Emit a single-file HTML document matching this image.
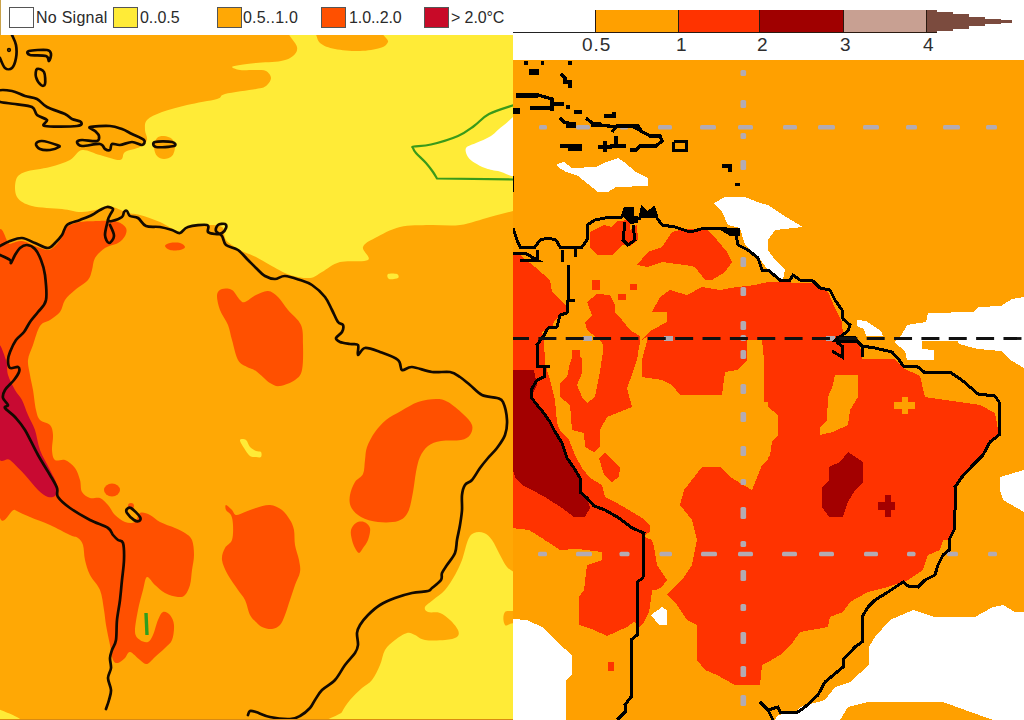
<!DOCTYPE html>
<html lang="en">
<head>
<meta charset="utf-8">
<title>Temperature change maps</title>
<style>
html,body{margin:0;padding:0;background:#fff;}
body{width:1024px;height:720px;overflow:hidden;position:relative;font-family:"Liberation Sans",sans-serif;}
#left{position:absolute;left:0;top:0;width:513px;height:720px;overflow:hidden;}
#right{position:absolute;left:513px;top:0;width:511px;height:720px;overflow:hidden;}
svg{position:absolute;left:0;top:0;display:block;}
.lg{position:absolute;top:7px;height:19px;width:23px;border:1px solid #555;box-sizing:content-box;}
.lt{position:absolute;top:8px;font-size:16px;line-height:19px;color:#2a2a2a;white-space:nowrap;letter-spacing:-0.1px;}
.cl{position:absolute;top:35px;font-size:19px;line-height:19px;color:#2e2e2e;white-space:nowrap;letter-spacing:1px;}
</style>
</head>
<body>
<div id="left">
<svg width="513" height="720" viewBox="0 0 513 720"><rect x="0" y="35" width="513" height="685" fill="#ffa805"/><path d="M288.0 30.0C285.5 32.8 296.2 42.7 297.0 47.0C297.8 51.3 295.7 53.7 293.0 56.0C290.3 58.3 287.2 59.8 281.0 61.0C274.8 62.2 262.8 62.3 256.0 63.0C249.2 63.7 244.0 64.3 240.0 65.0C236.0 65.7 232.0 66.2 232.0 67.0C232.0 67.8 236.0 69.5 240.0 70.0C244.0 70.5 251.7 69.8 256.0 70.0C260.3 70.2 263.5 69.7 266.0 71.0C268.5 72.3 271.0 75.5 271.0 78.0C271.0 80.5 268.5 84.2 266.0 86.0C263.5 87.8 262.8 87.7 256.0 89.0C249.2 90.3 231.5 92.3 225.0 94.0C218.5 95.7 223.3 97.2 217.0 99.0C210.7 100.8 196.2 102.8 187.0 105.0C177.8 107.2 168.7 109.5 162.0 112.0C155.3 114.5 149.8 117.0 147.0 120.0C144.2 123.0 145.0 126.7 145.0 130.0C145.0 133.3 147.8 137.2 147.0 140.0C146.2 142.8 143.7 145.0 140.0 147.0C136.3 149.0 128.3 149.8 125.0 152.0C121.7 154.2 124.2 159.5 120.0 160.0C115.8 160.5 106.3 156.7 100.0 155.0C93.7 153.3 87.0 149.2 82.0 150.0C77.0 150.8 75.3 157.2 70.0 160.0C64.7 162.8 57.5 165.0 50.0 167.0C42.5 169.0 30.7 169.8 25.0 172.0C19.3 174.2 17.3 175.8 16.0 180.0C14.7 184.2 14.3 192.7 17.0 197.0C19.7 201.3 24.5 204.0 32.0 206.0C39.5 208.0 53.7 208.0 62.0 209.0C70.3 210.0 74.8 212.2 82.0 212.0C89.2 211.8 99.8 208.8 105.0 208.0C110.2 207.2 109.2 206.2 113.0 207.0C116.8 207.8 123.5 211.7 128.0 213.0C132.5 214.3 134.7 213.5 140.0 215.0C145.3 216.5 153.3 219.2 160.0 222.0C166.7 224.8 175.0 231.2 180.0 232.0C185.0 232.8 185.8 228.2 190.0 227.0C194.2 225.8 199.7 225.0 205.0 225.0C210.3 225.0 218.5 224.5 222.0 227.0C225.5 229.5 223.0 236.2 226.0 240.0C229.0 243.8 235.0 247.2 240.0 250.0C245.0 252.8 251.0 254.5 256.0 257.0C261.0 259.5 264.3 262.0 270.0 265.0C275.7 268.0 283.3 272.8 290.0 275.0C296.7 277.2 304.7 278.5 310.0 278.0C315.3 277.5 317.0 274.7 322.0 272.0C327.0 269.3 332.3 264.0 340.0 262.0C347.7 260.0 364.2 262.5 368.0 260.0C371.8 257.5 361.8 250.7 363.0 247.0C364.2 243.3 368.8 241.3 375.0 238.0C381.2 234.7 390.8 229.2 400.0 227.0C409.2 224.8 420.0 225.3 430.0 225.0C440.0 224.7 450.0 226.3 460.0 225.0C470.0 223.7 481.2 219.3 490.0 217.0C498.8 214.7 504.7 213.2 513.0 211.0C521.3 208.8 534.7 222.5 540.0 204.0C545.3 185.5 546.7 129.8 545.0 100.0C543.3 70.2 555.5 37.5 530.0 25.0C504.5 12.5 415.7 22.2 392.0 25.0C368.3 27.8 390.0 38.2 388.0 42.0C386.0 45.8 384.7 46.5 380.0 48.0C375.3 49.5 367.5 50.8 360.0 51.0C352.5 51.2 341.7 50.3 335.0 49.0C328.3 47.7 323.8 46.2 320.0 43.0C316.2 39.8 317.3 32.2 312.0 30.0C306.7 27.8 290.5 27.2 288.0 30.0Z" fill="#ffeb37"/><path d="M468.0 540.0C470.0 535.5 471.3 534.2 474.0 533.0C476.7 531.8 481.0 531.8 484.0 533.0C487.0 534.2 489.3 536.3 492.0 540.0C494.7 543.7 497.5 550.5 500.0 555.0C502.5 559.5 504.0 563.2 507.0 567.0C510.0 570.8 516.2 571.2 518.0 578.0C519.8 584.8 520.2 602.3 518.0 608.0C515.8 613.7 507.2 609.2 505.0 612.0C502.8 614.8 502.8 621.7 505.0 625.0C507.2 628.3 515.5 615.3 518.0 632.0C520.5 648.7 550.0 709.5 520.0 725.0C490.0 740.5 367.7 727.2 338.0 725.0C308.3 722.8 340.0 716.2 342.0 712.0C344.0 707.8 346.7 704.0 350.0 700.0C353.3 696.0 358.3 691.3 362.0 688.0C365.7 684.7 369.0 683.8 372.0 680.0C375.0 676.2 377.8 670.0 380.0 665.0C382.2 660.0 382.5 654.2 385.0 650.0C387.5 645.8 391.3 642.8 395.0 640.0C398.7 637.2 403.7 633.8 407.0 633.0C410.3 632.2 412.0 633.8 415.0 635.0C418.0 636.2 420.0 639.2 425.0 640.0C430.0 640.8 439.7 640.5 445.0 640.0C450.3 639.5 454.8 638.7 457.0 637.0C459.2 635.3 459.2 632.8 458.0 630.0C456.8 627.2 453.0 622.8 450.0 620.0C447.0 617.2 443.7 614.3 440.0 613.0C436.3 611.7 430.5 613.0 428.0 612.0C425.5 611.0 424.2 609.0 425.0 607.0C425.8 605.0 429.7 602.8 433.0 600.0C436.3 597.2 441.3 594.2 445.0 590.0C448.7 585.8 452.2 580.0 455.0 575.0C457.8 570.0 459.8 565.8 462.0 560.0C464.2 554.2 466.0 544.5 468.0 540.0Z" fill="#ffeb37"/><path d="M388.0 274.0C389.3 273.2 395.3 273.3 397.0 274.0C398.7 274.7 399.3 277.2 398.0 278.0C396.7 278.8 390.7 279.7 389.0 279.0C387.3 278.3 386.7 274.8 388.0 274.0Z" fill="#ffeb37"/><path d="M240.0 440.0C240.3 438.7 244.3 438.8 246.0 440.0C247.7 441.2 248.3 445.2 250.0 447.0C251.7 448.8 254.2 450.2 256.0 451.0C257.8 451.8 260.2 451.0 261.0 452.0C261.8 453.0 261.8 456.2 261.0 457.0C260.2 457.8 257.8 457.2 256.0 457.0C254.2 456.8 252.0 457.5 250.0 456.0C248.0 454.5 245.7 450.7 244.0 448.0C242.3 445.3 239.7 441.3 240.0 440.0Z" fill="#ffeb37"/><path d="M-3.0 710.0C-1.2 708.2 4.2 711.5 8.0 713.0C11.8 714.5 18.0 717.2 20.0 719.0C22.0 720.8 23.8 723.2 20.0 724.0C16.2 724.8 0.8 726.3 -3.0 724.0C-6.8 721.7 -4.8 711.8 -3.0 710.0Z" fill="#ffeb37"/><path d="M154.0 147.0C154.0 144.0 155.3 139.8 157.0 138.0C158.7 136.2 161.5 135.8 164.0 136.0C166.5 136.2 170.2 137.2 172.0 139.0C173.8 140.8 175.0 144.2 175.0 147.0C175.0 149.8 173.8 154.0 172.0 156.0C170.2 158.0 166.5 159.0 164.0 159.0C161.5 159.0 158.7 158.0 157.0 156.0C155.3 154.0 154.0 150.0 154.0 147.0Z" fill="#ffa805"/><path d="M466.0 148.0C467.3 145.7 471.8 145.0 476.0 143.0C480.2 141.0 486.3 139.0 491.0 136.0C495.7 133.0 498.8 128.3 504.0 125.0C509.2 121.7 519.0 108.0 522.0 116.0C525.0 124.0 526.0 163.8 522.0 173.0C518.0 182.2 504.2 171.8 498.0 171.0C491.8 170.2 488.8 169.3 485.0 168.0C481.2 166.7 477.8 164.8 475.0 163.0C472.2 161.2 469.5 159.5 468.0 157.0C466.5 154.5 464.7 150.3 466.0 148.0Z" fill="#fff"/><path d="M-3.0 249.0C-0.8 206.5 5.8 245.3 10.0 244.0C14.2 242.7 17.8 240.7 22.0 241.0C26.2 241.3 30.7 244.5 35.0 246.0C39.3 247.5 44.5 250.2 48.0 250.0C51.5 249.8 53.7 247.2 56.0 245.0C58.3 242.8 60.2 240.0 62.0 237.0C63.8 234.0 64.0 229.5 67.0 227.0C70.0 224.5 74.5 223.0 80.0 222.0C85.5 221.0 95.5 221.2 100.0 221.0C104.5 220.8 104.0 220.8 107.0 221.0C110.0 221.2 114.8 220.8 118.0 222.0C121.2 223.2 124.8 225.7 126.0 228.0C127.2 230.3 126.3 233.5 125.0 236.0C123.7 238.5 121.3 241.0 118.0 243.0C114.7 245.0 108.8 245.5 105.0 248.0C101.2 250.5 97.2 254.3 95.0 258.0C92.8 261.7 93.2 266.3 92.0 270.0C90.8 273.7 90.8 276.7 88.0 280.0C85.2 283.3 78.8 286.7 75.0 290.0C71.2 293.3 67.5 296.3 65.0 300.0C62.5 303.7 62.5 308.7 60.0 312.0C57.5 315.3 53.3 317.7 50.0 320.0C46.7 322.3 42.8 321.8 40.0 326.0C37.2 330.2 35.0 339.3 33.0 345.0C31.0 350.7 28.5 355.0 28.0 360.0C27.5 365.0 29.2 370.0 30.0 375.0C30.8 380.0 32.0 384.2 33.0 390.0C34.0 395.8 34.8 405.0 36.0 410.0C37.2 415.0 37.7 417.5 40.0 420.0C42.3 422.5 47.8 422.5 50.0 425.0C52.2 427.5 52.7 430.8 53.0 435.0C53.3 439.2 51.7 445.8 52.0 450.0C52.3 454.2 52.8 458.3 55.0 460.0C57.2 461.7 61.7 458.7 65.0 460.0C68.3 461.3 72.5 464.7 75.0 468.0C77.5 471.3 78.8 476.0 80.0 480.0C81.2 484.0 80.3 489.0 82.0 492.0C83.7 495.0 87.0 497.0 90.0 498.0C93.0 499.0 97.0 496.8 100.0 498.0C103.0 499.2 105.5 502.2 108.0 505.0C110.5 507.8 112.2 512.2 115.0 515.0C117.8 517.8 121.7 520.8 125.0 522.0C128.3 523.2 132.5 523.5 135.0 522.0C137.5 520.5 137.5 514.2 140.0 513.0C142.5 511.8 146.7 513.5 150.0 515.0C153.3 516.5 155.8 519.8 160.0 522.0C164.2 524.2 170.8 526.2 175.0 528.0C179.2 529.8 182.2 531.0 185.0 533.0C187.8 535.0 190.5 536.3 192.0 540.0C193.5 543.7 194.0 550.0 194.0 555.0C194.0 560.0 192.7 565.0 192.0 570.0C191.3 575.0 191.2 580.8 190.0 585.0C188.8 589.2 187.0 593.0 185.0 595.0C183.0 597.0 181.3 597.3 178.0 597.0C174.7 596.7 168.8 595.0 165.0 593.0C161.2 591.0 158.0 587.7 155.0 585.0C152.0 582.3 149.0 576.2 147.0 577.0C145.0 577.8 144.5 584.5 143.0 590.0C141.5 595.5 139.3 603.0 138.0 610.0C136.7 617.0 134.7 627.0 135.0 632.0C135.3 637.0 137.8 638.3 140.0 640.0C142.2 641.7 145.8 642.8 148.0 642.0C150.2 641.2 151.3 638.7 153.0 635.0C154.7 631.3 156.3 623.8 158.0 620.0C159.7 616.2 161.0 612.8 163.0 612.0C165.0 611.2 168.2 612.8 170.0 615.0C171.8 617.2 173.7 620.8 174.0 625.0C174.3 629.2 173.5 636.2 172.0 640.0C170.5 643.8 167.8 645.2 165.0 648.0C162.2 650.8 158.0 654.3 155.0 657.0C152.0 659.7 149.5 663.5 147.0 664.0C144.5 664.5 142.8 662.0 140.0 660.0C137.2 658.0 132.5 652.3 130.0 652.0C127.5 651.7 127.0 656.2 125.0 658.0C123.0 659.8 120.0 662.7 118.0 663.0C116.0 663.3 114.3 663.0 113.0 660.0C111.7 657.0 111.2 650.8 110.0 645.0C108.8 639.2 107.0 630.8 106.0 625.0C105.0 619.2 105.0 615.8 104.0 610.0C103.0 604.2 102.3 595.8 100.0 590.0C97.7 584.2 92.5 580.0 90.0 575.0C87.5 570.0 86.2 565.0 85.0 560.0C83.8 555.0 84.2 548.7 83.0 545.0C81.8 541.3 80.2 539.7 78.0 538.0C75.8 536.3 74.7 537.2 70.0 535.0C65.3 532.8 56.7 528.0 50.0 525.0C43.3 522.0 35.8 519.5 30.0 517.0C24.2 514.5 20.5 513.0 15.0 510.0C9.5 507.0 0.0 542.5 -3.0 499.0C-6.0 455.5 -5.2 291.5 -3.0 249.0Z" fill="#ff5000"/><path d="M165.0 246.0C165.0 244.8 167.5 243.5 170.0 243.0C172.5 242.5 177.5 242.3 180.0 243.0C182.5 243.7 185.0 245.8 185.0 247.0C185.0 248.2 182.5 249.5 180.0 250.0C177.5 250.5 172.5 250.7 170.0 250.0C167.5 249.3 165.0 247.2 165.0 246.0Z" fill="#ff5000"/><path d="M217.0 295.0C217.3 291.5 219.5 289.8 222.0 289.0C224.5 288.2 229.0 288.2 232.0 290.0C235.0 291.8 237.8 298.0 240.0 300.0C242.2 302.0 242.3 302.8 245.0 302.0C247.7 301.2 252.2 296.8 256.0 295.0C259.8 293.2 264.3 290.7 268.0 291.0C271.7 291.3 274.7 293.8 278.0 297.0C281.3 300.2 284.2 305.3 288.0 310.0C291.8 314.7 298.5 319.2 301.0 325.0C303.5 330.8 302.8 337.5 303.0 345.0C303.2 352.5 303.3 364.2 302.0 370.0C300.7 375.8 298.7 377.3 295.0 380.0C291.3 382.7 284.2 385.5 280.0 386.0C275.8 386.5 274.0 385.5 270.0 383.0C266.0 380.5 259.8 373.7 256.0 371.0C252.2 368.3 250.0 368.8 247.0 367.0C244.0 365.2 240.5 364.5 238.0 360.0C235.5 355.5 233.7 345.8 232.0 340.0C230.3 334.2 230.0 330.0 228.0 325.0C226.0 320.0 221.8 315.0 220.0 310.0C218.2 305.0 216.7 298.5 217.0 295.0Z" fill="#ff5000"/><path d="M418.0 402.0C423.8 400.0 431.0 399.0 436.0 399.0C441.0 399.0 443.5 399.5 448.0 402.0C452.5 404.5 459.0 410.2 463.0 414.0C467.0 417.8 470.8 421.5 472.0 425.0C473.2 428.5 471.8 432.5 470.0 435.0C468.2 437.5 465.8 439.0 461.0 440.0C456.2 441.0 446.5 440.0 441.0 441.0C435.5 442.0 431.5 443.3 428.0 446.0C424.5 448.7 422.0 452.7 420.0 457.0C418.0 461.3 417.2 466.2 416.0 472.0C414.8 477.8 414.3 485.3 413.0 492.0C411.7 498.7 410.5 507.2 408.0 512.0C405.5 516.8 403.0 519.3 398.0 521.0C393.0 522.7 384.2 522.7 378.0 522.0C371.8 521.3 365.5 519.5 361.0 517.0C356.5 514.5 352.8 510.7 351.0 507.0C349.2 503.3 349.3 499.2 350.0 495.0C350.7 490.8 352.8 485.5 355.0 482.0C357.2 478.5 361.3 477.7 363.0 474.0C364.7 470.3 364.3 464.5 365.0 460.0C365.7 455.5 365.3 451.7 367.0 447.0C368.7 442.3 371.8 436.5 375.0 432.0C378.2 427.5 381.7 423.5 386.0 420.0C390.3 416.5 395.7 414.0 401.0 411.0C406.3 408.0 412.2 404.0 418.0 402.0Z" fill="#ff5000"/><path d="M226.0 505.0C227.0 505.0 230.3 508.3 232.0 510.0C233.7 511.7 233.8 514.7 236.0 515.0C238.2 515.3 241.7 513.2 245.0 512.0C248.3 510.8 251.8 509.2 256.0 508.0C260.2 506.8 265.7 504.7 270.0 505.0C274.3 505.3 278.7 507.5 282.0 510.0C285.3 512.5 288.0 516.7 290.0 520.0C292.0 523.3 293.2 525.8 294.0 530.0C294.8 534.2 294.2 540.0 295.0 545.0C295.8 550.0 298.2 555.5 299.0 560.0C299.8 564.5 300.7 567.8 300.0 572.0C299.3 576.2 296.7 580.3 295.0 585.0C293.3 589.7 291.7 595.0 290.0 600.0C288.3 605.0 286.7 610.8 285.0 615.0C283.3 619.2 282.2 622.7 280.0 625.0C277.8 627.3 275.0 628.7 272.0 629.0C269.0 629.3 264.7 628.2 262.0 627.0C259.3 625.8 258.0 624.0 256.0 622.0C254.0 620.0 251.8 618.7 250.0 615.0C248.2 611.3 247.0 604.2 245.0 600.0C243.0 595.8 240.8 594.2 238.0 590.0C235.2 585.8 230.7 580.0 228.0 575.0C225.3 570.0 222.5 564.5 222.0 560.0C221.5 555.5 223.3 551.3 225.0 548.0C226.7 544.7 230.7 543.8 232.0 540.0C233.3 536.2 233.2 529.2 233.0 525.0C232.8 520.8 232.2 517.5 231.0 515.0C229.8 512.5 226.8 511.7 226.0 510.0C225.2 508.3 225.0 505.0 226.0 505.0Z" fill="#ff5000"/><path d="M351.0 530.0C351.7 527.2 353.8 524.3 356.0 523.0C358.2 521.7 361.7 521.2 364.0 522.0C366.3 522.8 369.3 525.0 370.0 528.0C370.7 531.0 369.2 536.7 368.0 540.0C366.8 543.3 364.5 545.8 363.0 548.0C361.5 550.2 360.3 553.0 359.0 553.0C357.7 553.0 356.2 550.2 355.0 548.0C353.8 545.8 352.7 543.0 352.0 540.0C351.3 537.0 350.3 532.8 351.0 530.0Z" fill="#ff5000"/><ellipse cx="112" cy="490" rx="8" ry="6.5" fill="#ff5000"/><circle cx="131" cy="506" r="3" fill="#ff5000"/><path d="M-3.0 350.0C-1.5 334.8 4.2 355.8 6.0 360.0C7.8 364.2 6.5 370.0 8.0 375.0C9.5 380.0 12.7 385.8 15.0 390.0C17.3 394.2 19.8 395.8 22.0 400.0C24.2 404.2 25.8 410.0 28.0 415.0C30.2 420.0 33.0 424.2 35.0 430.0C37.0 435.8 37.5 443.3 40.0 450.0C42.5 456.7 47.2 464.2 50.0 470.0C52.8 475.8 56.0 480.8 57.0 485.0C58.0 489.2 57.5 493.0 56.0 495.0C54.5 497.0 51.0 497.8 48.0 497.0C45.0 496.2 41.8 493.7 38.0 490.0C34.2 486.3 29.7 480.0 25.0 475.0C20.3 470.0 14.7 464.0 10.0 460.0C5.3 456.0 -0.8 469.3 -3.0 451.0C-5.2 432.7 -4.5 365.2 -3.0 350.0Z" fill="#c80a32"/><path d="M514.0 105.0C509.8 106.5 495.7 110.5 489.0 114.0C482.3 117.5 479.2 122.3 474.0 126.0C468.8 129.7 465.2 132.9 458.0 136.0C450.8 139.1 438.3 142.8 431.0 144.5C423.7 146.2 417.0 145.9 414.0 146.5C411.0 147.1 412.7 146.9 413.0 148.0C413.3 149.1 413.8 150.5 416.0 153.0C418.2 155.5 423.2 159.8 426.0 163.0C428.8 166.2 431.2 169.4 433.0 172.0C434.8 174.6 436.3 177.4 437.0 178.5L514 179.5" fill="none" stroke="#3a9a1a" stroke-width="2.2" stroke-linejoin="round"/><path d="M146 613L147 635" stroke="#2f9e1e" stroke-width="3.4" fill="none"/><g fill="none" stroke="#140a00" stroke-width="2.7" stroke-linejoin="round" stroke-linecap="round"><path d="M0.0 246.0C1.7 245.2 6.3 242.3 10.0 241.0C13.7 239.7 17.8 237.7 22.0 238.0C26.2 238.3 30.7 241.3 35.0 243.0C39.3 244.7 44.7 248.0 48.0 248.0C51.3 248.0 52.7 245.2 55.0 243.0C57.3 240.8 60.0 238.0 62.0 235.0C64.0 232.0 64.0 227.5 67.0 225.0C70.0 222.5 75.8 221.7 80.0 220.0C84.2 218.3 88.7 216.7 92.0 215.0C95.3 213.3 97.5 211.3 100.0 210.0C102.5 208.7 104.8 207.2 107.0 207.0C109.2 206.8 112.5 207.7 113.0 209.0C113.5 210.3 110.8 213.2 110.0 215.0C109.2 216.8 107.7 219.0 108.0 220.0C108.3 221.0 109.7 221.5 112.0 221.0C114.3 220.5 120.0 218.5 122.0 217.0C124.0 215.5 123.2 213.0 124.0 212.0C124.8 211.0 126.0 210.3 127.0 211.0C128.0 211.7 128.2 214.8 130.0 216.0C131.8 217.2 135.3 216.3 138.0 218.0C140.7 219.7 142.3 224.5 146.0 226.0C149.7 227.5 155.7 226.3 160.0 227.0C164.3 227.7 168.7 229.0 172.0 230.0C175.3 231.0 177.3 233.5 180.0 233.0C182.7 232.5 183.5 228.3 188.0 227.0C192.5 225.7 203.7 224.2 207.0 225.0C210.3 225.8 206.7 230.5 208.0 232.0C209.3 233.5 212.7 233.8 215.0 234.0C217.3 234.2 220.2 234.0 222.0 233.0C223.8 232.0 225.5 229.5 226.0 228.0C226.5 226.5 226.3 224.5 225.0 224.0C223.7 223.5 219.5 223.8 218.0 225.0C216.5 226.2 215.3 229.2 216.0 231.0C216.7 232.8 220.3 233.7 222.0 236.0C223.7 238.3 223.3 242.7 226.0 245.0C228.7 247.3 234.3 247.5 238.0 250.0C241.7 252.5 245.0 257.0 248.0 260.0C251.0 263.0 253.2 265.3 256.0 268.0C258.8 270.7 261.8 274.2 265.0 276.0C268.2 277.8 271.7 279.0 275.0 279.0C278.3 279.0 280.8 275.8 285.0 276.0C289.2 276.2 295.5 278.5 300.0 280.0C304.5 281.5 307.8 282.2 312.0 285.0C316.2 287.8 321.7 292.8 325.0 297.0C328.3 301.2 329.8 305.8 332.0 310.0C334.2 314.2 336.2 319.5 338.0 322.0C339.8 324.5 342.3 323.3 343.0 325.0C343.7 326.7 343.2 329.8 342.0 332.0C340.8 334.2 336.3 336.3 336.0 338.0C335.7 339.7 337.7 341.0 340.0 342.0C342.3 343.0 347.0 343.5 350.0 344.0C353.0 344.5 356.7 343.2 358.0 345.0C359.3 346.8 356.8 354.5 358.0 355.0C359.2 355.5 361.3 348.5 365.0 348.0C368.7 347.5 374.5 350.0 380.0 352.0C385.5 354.0 394.3 357.0 398.0 360.0C401.7 363.0 399.7 368.8 402.0 370.0C404.3 371.2 407.0 366.7 412.0 367.0C417.0 367.3 425.7 371.2 432.0 372.0C438.3 372.8 445.3 371.2 450.0 372.0C454.7 372.8 456.7 374.8 460.0 377.0C463.3 379.2 466.3 382.0 470.0 385.0C473.7 388.0 477.5 392.8 482.0 395.0C486.5 397.2 493.5 396.8 497.0 398.0C500.5 399.2 501.3 398.3 503.0 402.0C504.7 405.7 506.7 414.5 507.0 420.0C507.3 425.5 506.7 430.3 505.0 435.0C503.3 439.7 499.8 444.2 497.0 448.0C494.2 451.8 490.8 454.7 488.0 458.0C485.2 461.3 482.7 464.3 480.0 468.0C477.3 471.7 474.5 477.2 472.0 480.0C469.5 482.8 466.7 482.5 465.0 485.0C463.3 487.5 462.5 490.8 462.0 495.0C461.5 499.2 462.3 505.0 462.0 510.0C461.7 515.0 460.8 520.0 460.0 525.0C459.2 530.0 457.8 535.3 457.0 540.0C456.2 544.7 456.7 548.8 455.0 553.0C453.3 557.2 449.2 561.7 447.0 565.0C444.8 568.3 443.0 570.5 442.0 573.0C441.0 575.5 442.7 577.5 441.0 580.0C439.3 582.5 434.2 586.2 432.0 588.0C429.8 589.8 431.3 590.2 428.0 591.0C424.7 591.8 417.5 591.8 412.0 593.0C406.5 594.2 400.3 596.0 395.0 598.0C389.7 600.0 384.5 602.2 380.0 605.0C375.5 607.8 371.3 611.7 368.0 615.0C364.7 618.3 361.8 622.0 360.0 625.0C358.2 628.0 357.3 629.7 357.0 633.0C356.7 636.3 358.3 641.7 358.0 645.0C357.7 648.3 357.2 649.7 355.0 653.0C352.8 656.3 348.3 660.5 345.0 665.0C341.7 669.5 338.8 675.8 335.0 680.0C331.2 684.2 325.3 686.7 322.0 690.0C318.7 693.3 317.0 697.0 315.0 700.0C313.0 703.0 312.5 705.3 310.0 708.0C307.5 710.7 303.3 714.2 300.0 716.0C296.7 717.8 295.0 718.8 290.0 719.0C285.0 719.2 275.7 718.2 270.0 717.0C264.3 715.8 259.3 713.0 256.0 712.0C252.7 711.0 251.3 710.5 250.0 711.0C248.7 711.5 248.3 714.3 248.0 715.0"/><path d="M108.0 220.0C107.5 222.5 104.8 231.2 105.0 235.0C105.2 238.8 107.5 242.8 109.0 243.0C110.5 243.2 113.8 239.0 114.0 236.0C114.2 233.0 110.7 226.8 110.0 225.0"/><path d="M0.0 255.0C1.7 255.8 8.2 258.7 10.0 260.0C11.8 261.3 10.2 263.8 11.0 263.0C11.8 262.2 13.5 257.5 15.0 255.0C16.5 252.5 18.0 249.7 20.0 248.0C22.0 246.3 24.5 244.8 27.0 245.0C29.5 245.2 32.7 246.5 35.0 249.0C37.3 251.5 39.3 255.7 41.0 260.0C42.7 264.3 44.2 268.3 45.0 275.0C45.8 281.7 47.2 293.8 46.0 300.0C44.8 306.2 40.7 308.3 38.0 312.0C35.3 315.7 32.3 318.7 30.0 322.0C27.7 325.3 26.3 329.0 24.0 332.0C21.7 335.0 18.3 336.7 16.0 340.0C13.7 343.3 11.3 348.7 10.0 352.0C8.7 355.3 8.0 357.3 8.0 360.0C8.0 362.7 8.3 366.8 10.0 368.0C11.7 369.2 16.5 366.3 18.0 367.0C19.5 367.7 19.7 369.8 19.0 372.0C18.3 374.2 16.3 377.0 14.0 380.0C11.7 383.0 6.8 387.0 5.0 390.0C3.2 393.0 2.5 395.5 3.0 398.0C3.5 400.5 7.7 403.3 8.0 405.0C8.3 406.7 3.8 406.0 5.0 408.0C6.2 410.0 11.7 413.3 15.0 417.0C18.3 420.7 21.2 423.7 25.0 430.0C28.8 436.3 33.8 447.5 38.0 455.0C42.2 462.5 46.8 469.5 50.0 475.0C53.2 480.5 55.7 484.3 57.0 488.0C58.3 491.7 55.8 493.7 58.0 497.0C60.2 500.3 64.7 504.2 70.0 508.0C75.3 511.8 83.7 516.7 90.0 520.0C96.3 523.3 104.2 525.5 108.0 528.0C111.8 530.5 111.3 533.0 113.0 535.0C114.7 537.0 116.3 538.7 118.0 540.0C119.7 541.3 122.0 539.7 123.0 543.0C124.0 546.3 124.2 553.8 124.0 560.0C123.8 566.2 122.7 573.3 122.0 580.0C121.3 586.7 120.8 593.3 120.0 600.0C119.2 606.7 117.7 613.3 117.0 620.0C116.3 626.7 116.8 635.0 116.0 640.0C115.2 645.0 113.0 647.0 112.0 650.0C111.0 653.0 110.2 655.0 110.0 658.0C109.8 661.0 111.3 664.7 111.0 668.0C110.7 671.3 108.0 674.3 108.0 678.0C108.0 681.7 110.8 686.3 111.0 690.0C111.2 693.7 109.8 696.8 109.0 700.0C108.2 703.2 106.5 707.5 106.0 709.0"/><path d="M12.0 35.0C12.7 36.7 15.3 41.2 16.0 45.0C16.7 48.8 16.7 54.2 16.0 58.0C15.3 61.8 13.8 66.3 12.0 68.0C10.2 69.7 7.0 69.7 5.0 68.0C3.0 66.3 0.8 59.7 0.0 58.0"/><path d="M29.0 51.0C31.8 50.2 43.3 49.5 47.0 50.0C50.7 50.5 50.7 52.2 51.0 54.0C51.3 55.8 49.8 60.7 49.0 61.0C48.2 61.3 49.2 57.0 46.0 56.0C42.8 55.0 32.8 55.8 30.0 55.0C27.2 54.2 26.2 51.8 29.0 51.0Z"/><path d="M37.0 69.0C38.3 68.2 42.7 69.5 44.0 72.0C45.3 74.5 45.5 81.8 45.0 84.0C44.5 86.2 42.5 86.2 41.0 85.0C39.5 83.8 36.7 79.7 36.0 77.0C35.3 74.3 35.7 69.8 37.0 69.0Z"/><path d="M-2.0 91.0C0.3 89.3 7.5 90.2 12.0 91.0C16.5 91.8 20.8 94.7 25.0 96.0C29.2 97.3 33.3 97.2 37.0 99.0C40.7 100.8 42.3 104.5 47.0 107.0C51.7 109.5 60.8 112.0 65.0 114.0C69.2 116.0 69.3 117.7 72.0 119.0C74.7 120.3 80.2 120.8 81.0 122.0C81.8 123.2 83.0 125.3 77.0 126.0C71.0 126.7 50.0 127.0 45.0 126.0C40.0 125.0 48.3 121.8 47.0 120.0C45.7 118.2 39.5 117.2 37.0 115.0C34.5 112.8 35.7 108.8 32.0 107.0C28.3 105.2 20.7 105.0 15.0 104.0C9.3 103.0 0.8 103.2 -2.0 101.0C-4.8 98.8 -4.3 92.7 -2.0 91.0Z"/><path d="M36.0 144.0C36.3 142.7 38.5 140.8 42.0 141.0C45.5 141.2 54.2 144.0 57.0 145.0C59.8 146.0 60.2 146.2 59.0 147.0C57.8 147.8 53.2 149.7 50.0 150.0C46.8 150.3 42.3 150.0 40.0 149.0C37.7 148.0 35.7 145.3 36.0 144.0Z"/><path d="M90.0 127.0C92.5 126.2 104.7 125.7 110.0 126.0C115.3 126.3 118.3 127.7 122.0 129.0C125.7 130.3 128.3 132.2 132.0 134.0C135.7 135.8 142.3 138.2 144.0 140.0C145.7 141.8 144.0 144.7 142.0 145.0C140.0 145.3 135.7 142.0 132.0 142.0C128.3 142.0 123.3 144.7 120.0 145.0C116.7 145.3 113.7 143.2 112.0 144.0C110.3 144.8 111.2 149.2 110.0 150.0C108.8 150.8 106.7 150.0 105.0 149.0C103.3 148.0 103.8 144.5 100.0 144.0C96.2 143.5 85.8 146.3 82.0 146.0C78.2 145.7 77.0 143.0 77.0 142.0C77.0 141.0 78.7 140.2 82.0 140.0C85.3 139.8 94.2 141.7 97.0 141.0C99.8 140.3 99.3 137.7 99.0 136.0C98.7 134.3 96.5 132.5 95.0 131.0C93.5 129.5 87.5 127.8 90.0 127.0Z"/><path d="M155.0 142.0C157.7 141.2 168.8 141.3 172.0 142.0C175.2 142.7 176.7 145.2 174.0 146.0C171.3 146.8 159.2 147.7 156.0 147.0C152.8 146.3 152.3 142.8 155.0 142.0Z"/><path d="M127.0 509.0C127.7 508.2 128.8 506.7 131.0 508.0C133.2 509.3 138.7 514.8 140.0 517.0C141.3 519.2 140.0 520.5 139.0 521.0C138.0 521.5 136.0 521.3 134.0 520.0C132.0 518.7 128.2 514.8 127.0 513.0C125.8 511.2 126.3 509.8 127.0 509.0Z"/><circle cx="9" cy="50" r="0.8"/></g><rect x="0" y="719" width="513" height="1" fill="#d98a12"/><rect x="0" y="0" width="513" height="35" fill="#fff"/><rect x="0" y="0" width="1" height="35" fill="#c9a24a"/></svg>
<div class="lg" style="left:9px;background:#fff"></div><div class="lt" style="left:36px;letter-spacing:0.25px">No Signal</div>
<div class="lg" style="left:113px;background:#ffeb37"></div><div class="lt" style="left:140px">0..0.5</div>
<div class="lg" style="left:217px;background:#ffa805"></div><div class="lt" style="left:243px;letter-spacing:0.2px">0.5..1.0</div>
<div class="lg" style="left:321px;background:#ff5000"></div><div class="lt" style="left:349px">1.0..2.0</div>
<div class="lg" style="left:424px;background:#c80a28"></div><div class="lt" style="left:451px">&gt; 2.0°C</div>
</div>
<div id="right">
<svg width="511" height="720" viewBox="513 0 511 720" shape-rendering="crispEdges"><rect x="513" y="60" width="511" height="660" fill="#ffa000"/><path d="M512 252L520 255L535 267L550 280L552 292L566 305L566 312L555 320L552 327L542 332L544 341L545 363L550 380L555 400L557 423L560 430L569 440L575 455L582 468L590 478L602 485L605 497L615 502L629 510L642 518L650 525L650 532L645 535L644 545L560 550L545 540L529 530L512 528Z" fill="#ff3300"/><path d="M590 232L604 225L612 227L617 221L630 220L630 230L637 225L638 240L630 246L622 245L612 255L597 255L590 247Z" fill="#ff3300"/><path d="M637 265L648 252L662 247L672 232L685 229L707 230L717 240L727 252L732 262L725 272L712 280L705 280L695 267L685 265L662 262L647 267Z" fill="#ff3300"/><path d="M592 280L600 280L600 290L592 290Z" fill="#ff3300"/><path d="M630 284L637 284L637 290L630 290Z" fill="#ff3300"/><path d="M618 294L626 294L626 300L618 300Z" fill="#ff3300"/><path d="M587 302L597 294L610 295L615 305L615 312L622 320L630 330L640 336L640 345L603 345L602 342L587 330L585 322L592 315Z" fill="#ff3300"/><path d="M603 341L640 341L637 360L632 375L627 388L632 407L607 417L600 430L600 447L594 452L585 447L584 433L572 430L570 405L560 397L560 383L567 377L570 363L574 352L582 358L582 373L577 385L582 397L587 403L595 397L599 377L603 352Z" fill="#ff3300"/><path d="M599 458L605 453L620 468L619 477L612 482L604 475Z" fill="#ff3300"/><path d="M572 350L580 350L580 362L572 362Z" fill="#ff3300"/><path d="M652 312L660 297L670 290L687 295L702 287L720 290L737 287L755 285L768 282L813 283L828 292L835 308L842 322L843 335L860 345L862 359L894 359L903 368L920 376L925 397L980 405L995 413L999 435L990 442L983 455L973 465L962 477L955 487L955 510L954 530L949 540L943 540L940 550L928 555L923 570L908 580L888 587L868 592L850 602L843 612L830 617L828 627L800 632L793 642L780 655L768 662L762 665L760 685L735 685L717 675L705 670L697 660L697 625L687 620L677 605L667 595L674 587L684 577L692 565L697 540L692 520L680 505L684 490L702 467L720 467L730 477L752 490L762 465L768 460L768 402L764 402L764 360L762 340L747 340L747 360L737 370L725 372L722 395L680 395L672 385L662 380L642 377L642 360L647 341L647 337L640 341L652 330L667 322L667 312Z" fill="#ff3300"/><path d="M544 540L562 547L602 552L602 560L587 565L584 590L579 597L579 625L594 630L607 636L627 627L634 622L639 627L644 622L649 612L652 592L662 587L667 580L657 565L654 547L652 540L640 535Z" fill="#ff3300"/><path d="M608 662L614 662L614 671L608 671Z" fill="#ff3300"/><path d="M835 375L858 375L858 397L850 410L848 425L833 432L820 435L820 427L827 420L828 397L833 385Z" fill="#ffa000"/><path d="M902 397L908 397L908 402L915 402L915 409L908 409L908 414L902 414L902 409L894 409L894 402L902 402Z" fill="#ffa000"/><path d="M768 407L778 415L778 435L772 442L770 455L768 457L764 457L764 407Z" fill="#ffa000"/><path d="M652 590L667 590L667 612L652 612Z" fill="#ffa000"/><path d="M513 370L534 370L537 385L531 397L537 405L543 412L550 422L556 432L562 443L567 458L574 468L580 478L580 492L587 498L590 508L585 517L574 517L562 508L545 497L532 490L522 485L515 477L513 470Z" fill="#a30000"/><path d="M848 452L863 462L863 482L855 490L848 502L843 517L829 517L822 507L822 487L829 480L829 467L840 462Z" fill="#a30000"/><path d="M885 495L891 495L891 502L895 502L895 510L891 510L891 517L885 517L885 510L878 510L878 502L885 502Z" fill="#a30000"/><path d="M557 164L564 162L572 168L596 167L606 162L618 158L624 162L636 172L648 178L648 186L616 187L608 192L598 192L588 184L578 176L566 172L558 167Z" fill="#fff"/><path d="M714 203L725 197L745 197L760 203L768 205L783 215L803 227L775 230L768 240L768 250L775 260L785 270L783 280L768 270L762 262L755 255L745 245L740 228L728 225L722 212Z" fill="#fff"/><path d="M901 336L907 325L926 322L928 313L974 312L978 307L1001 306L1012 299L1024 297L1024 368L1012 361L1001 351L978 349L959 344L958 341L922 341L922 349L934 350L934 360L907 360L905 351L894 342Z" fill="#fff"/><path d="M857 320L866 321L881 331L883 336L866 336L864 329L857 326Z" fill="#fff"/><path d="M1000 477L1024 470L1024 512L1003 500L1000 490Z" fill="#fff"/><path d="M512 619L527 620L542 627L557 642L572 655L572 675L566 680L566 720L512 720Z" fill="#fff"/><path d="M651 615L662 607L667 610L667 625L659 625Z" fill="#fff"/><path d="M1024 612L1015 612L1003 605L993 607L975 617L935 617L913 610L890 620L875 637L869 647L869 665L850 682L835 687L825 700L800 707L795 712L778 715L775 720L840 720L848 707L868 702L943 702L965 710L993 720L1024 720Z" fill="#fff"/><g fill="#b3abb3" shape-rendering="auto"><rect x="539" y="125" width="8" height="4.6" rx="1.6"/><rect x="576" y="125" width="14" height="4.6" rx="1.6"/><rect x="620" y="125" width="8" height="4.6" rx="1.6"/><rect x="658" y="125" width="14" height="4.6" rx="1.6"/><rect x="700" y="125" width="16" height="4.6" rx="1.6"/><rect x="738" y="125" width="15" height="4.6" rx="1.6"/><rect x="783" y="125" width="14" height="4.6" rx="1.6"/><rect x="818" y="125" width="17" height="4.6" rx="1.6"/><rect x="863" y="125" width="16" height="4.6" rx="1.6"/><rect x="906" y="125" width="11" height="4.6" rx="1.6"/><rect x="943" y="125" width="17" height="4.6" rx="1.6"/><rect x="986" y="125" width="11" height="4.6" rx="1.6"/><rect x="538" y="551.7" width="9" height="4.6" rx="1.6"/><rect x="576" y="551.7" width="16" height="4.6" rx="1.6"/><rect x="619.5" y="551.7" width="10" height="4.6" rx="1.6"/><rect x="659.5" y="551.7" width="12.5" height="4.6" rx="1.6"/><rect x="701" y="551.7" width="16" height="4.6" rx="1.6"/><rect x="738" y="551.7" width="15" height="4.6" rx="1.6"/><rect x="782" y="551.7" width="15" height="4.6" rx="1.6"/><rect x="819" y="551.7" width="15" height="4.6" rx="1.6"/><rect x="864" y="551.7" width="14" height="4.6" rx="1.6"/><rect x="907" y="551.7" width="8.5" height="4.6" rx="1.6"/><rect x="947" y="551.7" width="11" height="4.6" rx="1.6"/><rect x="988" y="551.7" width="9" height="4.6" rx="1.6"/><rect x="740.5" y="70" width="5.6" height="6" rx="1.6"/><rect x="740.5" y="100" width="5.6" height="8" rx="1.6"/><rect x="740.5" y="126" width="5.6" height="3" rx="1.6"/><rect x="740.5" y="133" width="5.6" height="6" rx="1.6"/><rect x="740.5" y="160" width="5.6" height="10" rx="1.6"/><rect x="740.5" y="257" width="5.6" height="10" rx="1.6"/><rect x="740.5" y="287" width="5.6" height="9" rx="1.6"/><rect x="740.5" y="321" width="5.6" height="9" rx="1.6"/><rect x="740.5" y="335" width="5.6" height="6" rx="1.6"/><rect x="740.5" y="350" width="5.6" height="9" rx="1.6"/><rect x="740.5" y="384" width="5.6" height="10" rx="1.6"/><rect x="740.5" y="412" width="5.6" height="10" rx="1.6"/><rect x="740.5" y="446" width="5.6" height="10" rx="1.6"/><rect x="740.5" y="479" width="5.6" height="6" rx="1.6"/><rect x="740.5" y="507" width="5.6" height="12" rx="1.6"/><rect x="740.5" y="541" width="5.6" height="6" rx="1.6"/><rect x="740.5" y="552" width="5.6" height="4" rx="1.6"/><rect x="740.5" y="570" width="5.6" height="11" rx="1.6"/><rect x="740.5" y="604" width="5.6" height="7" rx="1.6"/><rect x="740.5" y="632" width="5.6" height="12" rx="1.6"/><rect x="740.5" y="666" width="5.6" height="11" rx="1.6"/><rect x="740.5" y="695" width="5.6" height="11" rx="1.6"/><rect x="583" y="336" width="9" height="5"/><rect x="664" y="336" width="9" height="5"/><rect x="826" y="336" width="9" height="5"/></g><g fill="none" stroke="#000" stroke-width="3" stroke-linejoin="miter"><path d="M513 228L517 240L520 247L535 247L540 240L548 238L556 240L560 247L582 247L587 240L587 225L595 220L605 218L622 217L625 208L632 208L632 218L640 218L642 208L647 213L654 208L657 218L662 225L675 227L690 232L705 228L718 228L735 230L738 245L748 250L758 258L762 270L768 270L780 280L790 280L793 275L800 280L813 281L820 288L830 290L835 300L842 310L843 319L850 325L848 331L841 336L836 340L856 340L862 346L875 348L892 352L900 361L903 366L918 367L924 372L950 372L963 381L978 394L995 396L999 402L999 435L990 442L983 455L973 465L962 477L955 487L955 510L954 530L949 540L949 550L943 555L938 565L935 575L925 580L918 587L908 586L903 582L888 592L875 600L868 607L862 617L862 642L855 647L843 660L843 667L825 682L818 695L805 707L798 712L780 712L778 707L768 710L760 702"/><path d="M768 710L773 720"/><path d="M862 346L862 357"/><path d="M836 342L842 346L842 357L832 351"/><path d="M625 222L623 240L628 245L635 240L633 225"/><path d="M513 253L525 253L537 260L520 260"/><path d="M537 250L537 260"/><path d="M562 250L562 262"/><path d="M575 247L575 257"/><path d="M568 265L568 300L575 300"/><path d="M568 300L567 313L560 315L557 327L548 328L543 337L537 345L537 366L550 366"/><path d="M544 367L544 377L537 380L531 390L531 397L537 405L543 412L550 422L554 430L562 443L567 458L574 468L580 478L580 492L587 498L594 506L605 510L619 518L632 528L644 533L643 578L637 582L637 635L631 640L631 697L625 705L625 712L617 720"/></g><rect x="524" y="61" width="4" height="4" fill="#000"/><rect x="541" y="61" width="3" height="4" fill="#000"/><rect x="568" y="61" width="4" height="4" fill="#000"/><rect x="529" y="69" width="10" height="6" fill="#000"/><rect x="516" y="93" width="22" height="5" fill="#000"/><rect x="513" y="108" width="7" height="6" fill="#000"/><rect x="566" y="122" width="10" height="6" fill="#000"/><rect x="591" y="122" width="10" height="5" fill="#000"/><rect x="568" y="145" width="14" height="6" fill="#000"/><rect x="512" y="176" width="2" height="16" fill="#000"/><g fill="none" stroke="#000" stroke-width="3.3"><path d="M561 74L565 78L565 82L570 82L570 88"/><path d="M538 95L552 99L552 111"/><path d="M530 108L550 108"/><path d="M552 104L564 104"/><path d="M566 107L570 107"/><path d="M574 112L582 112"/><path d="M560 118L564 122L576 125"/><path d="M586 118L592 123"/><path d="M601 125L616 127L612 132"/><path d="M604 116L614 116L614 112"/><path d="M616 126L638 126L642 132"/><path d="M632 126L650 136L660 136L662 141L656 146L640 146L636 150L630 150"/><path d="M616 136L616 146"/><path d="M610 146L626 146"/><path d="M560 146L582 146"/><path d="M598 147L612 147"/><path d="M605 141L605 152"/><path d="M673.5 141.5L686.5 141.5L686.5 150.5L673.5 150.5L673.5 141.5"/></g><path d="M624 208L632 208L632 216L638 216L638 223L630 224L624 218Z" fill="#000"/><path d="M640 208L644 208L647 212L651 208L656 208L657 218L641 218Z" fill="#000"/><path d="M722 164L732 164L732 172L728 172L728 168L722 168Z" fill="#000"/><path d="M717 228L740 228L740 236L730 236Z" fill="#000"/><path d="M836 336L856 336L856 343L836 343Z" fill="#000"/><path d="M735 183L740 183L740 186L735 186Z" fill="#000"/><path d="M513 338.5H1024" stroke="#111" stroke-width="2.8" stroke-dasharray="18 9.36" stroke-dashoffset="2" shape-rendering="auto" fill="none"/><rect x="513" y="32" width="83" height="1" fill="#222"/><rect x="595" y="10" width="83" height="22" fill="#ffa000"/><rect x="678" y="10" width="81" height="22" fill="#ff3300"/><rect x="759" y="10" width="84" height="22" fill="#a00000"/><rect x="843" y="10" width="83" height="22" fill="#c8a092"/><path d="M926 10H937V12.2H953V14.4H969V16.6H985V18.8H1001V20H1012V23H1001V24.2H985V26.4H969V28.6H953V30.8H937V33H926Z" fill="#7b4b3e"/><path d="M595 10V33M678 10V33M759 10V33M843 10V33M926 10V33M595 32.5H937" stroke="#2a1a10" stroke-width="1" fill="none"/></svg>
<div class="cl" style="left:69px">0.5</div>
<div class="cl" style="left:163px">1</div>
<div class="cl" style="left:244px">2</div>
<div class="cl" style="left:327px">3</div>
<div class="cl" style="left:410px">4</div>
</div>
</body>
</html>
